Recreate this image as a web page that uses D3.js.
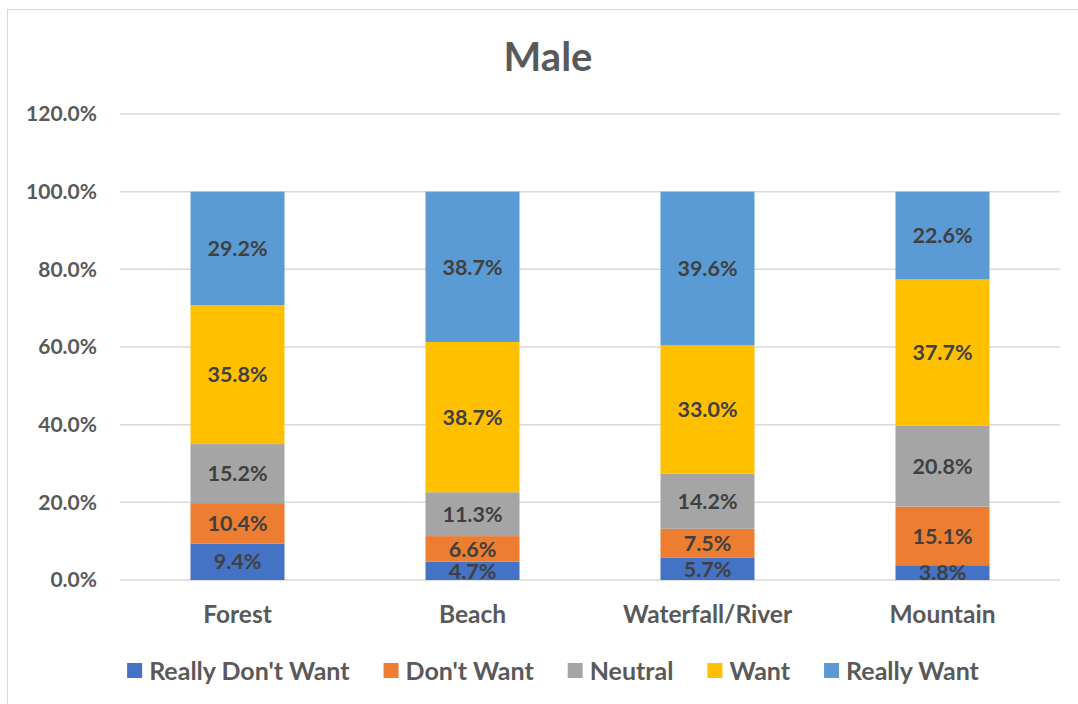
<!DOCTYPE html>
<html>
<head>
<meta charset="utf-8">
<script src="https://cdn.jsdelivr.net/npm/d3@7"></script>
<style>
  body { margin: 0; background: #fff; }
  svg text { font-family: Lato, "Open Sans", sans-serif; font-weight: bold; }
</style>
</head>
<body>
<svg id="chart" width="1078" height="704"></svg>
<script>
var categories = ["Forest", "Beach", "Waterfall/River", "Mountain"];
var seriesNames = ["Really Don't Want", "Don't Want", "Neutral", "Want", "Really Want"];
var reallyDontWant = [9.4, 4.7, 5.7, 3.8];
var dontWant = [10.4, 6.6, 7.5, 15.1];
var neutral = [15.2, 11.3, 14.2, 20.8];
var want = [35.8, 38.7, 33.0, 37.7];
var reallyWant = [29.2, 38.7, 39.6, 22.6];
var yTicks = [0, 20, 40, 60, 80, 100, 120];

var colors = ["#4472C4", "#ED7D31", "#A5A5A5", "#FFC000", "#5B9BD5"];
var seriesValues = [reallyDontWant, dontWant, neutral, want, reallyWant];

var rows = categories.map(function(c, i) {
  var r = { cat: c };
  seriesNames.forEach(function(s, j) { r[s] = seriesValues[j][i]; });
  return r;
});

var svg = d3.select("#chart");

// chart frame
svg.append("rect")
  .attr("x", 7.5).attr("y", 9.5)
  .attr("width", 1100).attr("height", 720)
  .attr("fill", "none")
  .attr("stroke", "#d9d9d9");

var x = d3.scaleBand()
  .domain(categories)
  .range([120, 1060])
  .paddingInner(0.6)
  .paddingOuter(0.3);

var y = d3.scaleLinear()
  .domain([0, 120])
  .range([580, 114]);

// gridlines
svg.append("g")
  .selectAll("line")
  .data(yTicks)
  .enter()
  .append("line")
  .attr("x1", 120).attr("x2", 1060)
  .attr("y1", function(d) { return y(d); })
  .attr("y2", function(d) { return y(d); })
  .attr("stroke", "#d9d9d9")
  .attr("stroke-width", 1.5);

// y labels
svg.append("g")
  .selectAll("text")
  .data(yTicks)
  .enter()
  .append("text")
  .attr("x", 97)
  .attr("y", function(d) { return y(d); })
  .attr("dy", "0.35em")
  .attr("text-anchor", "end")
  .attr("fill", "#595959")
  .style("font-size", "21px")
  .text(function(d) { return d.toFixed(1) + "%"; });

var stacked = d3.stack().keys(seriesNames)(rows);

var layers = svg.append("g")
  .selectAll("g")
  .data(stacked)
  .enter()
  .append("g")
  .attr("fill", function(d, i) { return colors[i]; });

layers.selectAll("rect")
  .data(function(d) { return d; })
  .enter()
  .append("rect")
  .attr("x", function(d) { return x(d.data.cat); })
  .attr("width", x.bandwidth())
  .attr("y", function(d) { return y(d[1]); })
  .attr("height", function(d) { return y(d[0]) - y(d[1]); });

// value labels
layers.selectAll("text")
  .data(function(d) { return d; })
  .enter()
  .append("text")
  .attr("x", function(d) { return x(d.data.cat) + x.bandwidth() / 2; })
  .attr("y", function(d) { return (y(d[0]) + y(d[1])) / 2; })
  .attr("dy", "0.36em")
  .attr("text-anchor", "middle")
  .attr("fill", "#404040")
  .style("font-size", "21.5px")
  .text(function(d) { return (d[1] - d[0]).toFixed(1) + "%"; });

// category labels
svg.append("g")
  .selectAll("text")
  .data(categories)
  .enter()
  .append("text")
  .attr("x", function(d) { return x(d) + x.bandwidth() / 2; })
  .attr("y", 623)
  .attr("text-anchor", "middle")
  .attr("fill", "#595959")
  .style("font-size", "24.5px")
  .text(function(d) { return d; });

// title
svg.append("text")
  .attr("x", 548)
  .attr("y", 71)
  .attr("text-anchor", "middle")
  .attr("fill", "#595959")
  .style("font-size", "40px")
  .text("Male");

// legend
var legend = svg.append("g");
var items = legend.selectAll("g")
  .data(seriesNames)
  .enter()
  .append("g");

items.append("rect")
  .attr("width", 15).attr("height", 15)
  .attr("y", 663)
  .attr("fill", function(d, i) { return colors[i]; });

items.append("text")
  .attr("x", 22)
  .attr("y", 671)
  .attr("dy", "0.35em")
  .attr("fill", "#595959")
  .style("font-size", "25px")
  .text(function(d) { return d; });

var pos = 0;
var gap = 34;
items.each(function() {
  var w = d3.select(this).select("text").node().getComputedTextLength() + 22;
  d3.select(this).attr("data-x", pos);
  pos += w + gap;
});
var total = pos - gap;
var start = 553 - total / 2;
items.attr("transform", function() {
  return "translate(" + (start + (+d3.select(this).attr("data-x"))) + ",0)";
});
</script>
</body>
</html>
